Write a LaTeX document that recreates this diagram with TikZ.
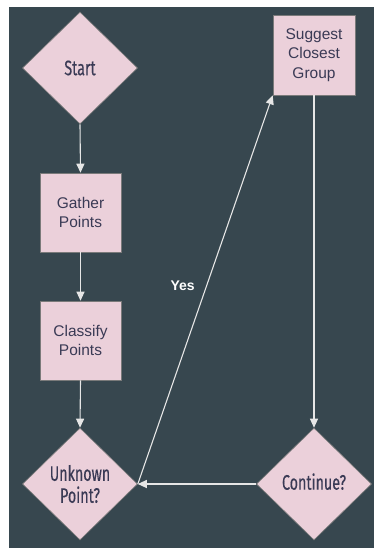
\documentclass[tikz,border=0pt]{standalone}
\usepackage{fontspec}
\setmainfont{Liberation Sans}
\newfontfamily\condfont[FakeStretch=0.68,FakeBold=0.3]{Fira Sans}
\usetikzlibrary{shapes.geometric,arrows.meta}
\definecolor{bgdark}{HTML}{37474F}
\definecolor{pinkfill}{HTML}{EBD0DA}
\definecolor{txtdark}{HTML}{3A3A55}
\definecolor{edgegray}{HTML}{7A7A7A}
\definecolor{linecol}{HTML}{E6E6E6}
\begin{document}
\begin{tikzpicture}[x=1pt,y=-1pt,
  dia/.style={diamond,draw=edgegray,line width=0.6pt,fill=pinkfill,inner sep=0pt,
    minimum width=115pt,minimum height=112pt,text=txtdark,align=center,
    font=\condfont\fontsize{21}{22}\selectfont},
  procbox/.style={rectangle,draw=edgegray,line width=0.6pt,fill=pinkfill,inner sep=0pt,
    minimum width=81pt,minimum height=79pt,text=txtdark,align=center,
    font=\fontsize{15.5}{19.5}\selectfont},
  flow/.style={draw=linecol,line width=1.1pt,-{Triangle[width=8pt,length=9pt]}}
]
\useasboundingbox (0,0) rectangle (377,550);
\fill[white] (0,0) rectangle (377,550);
\fill[bgdark] (9,7) rectangle (374,548);
\node[dia] (start) at (80,68) {Start};
\node[procbox] (gather) at (80.5,212.5) {Gather\\Points};
\node[procbox] (classify) at (80.5,340.5) {Classify\\Points};
\node[dia] (unknown) at (80,484) {Unknown\\Point?};
\node[dia] (cont) at (314,484) {\raisebox{5pt}{Continue?}};
\node[procbox,minimum width=82pt,minimum height=80pt] (suggest) at (314,55) {Suggest\\Closest\\Group};
\draw[flow] (start.south) -- (gather.north);
\draw[flow] (gather.south) -- (classify.north);
\draw[flow] (classify.south) -- (unknown.north);
\draw[flow] (unknown.east) -- node[pos=0.51,left=8pt,text=white,font=\bfseries\fontsize{14}{16}\selectfont] {Yes} (suggest.south west);
\draw[flow] (suggest.south) -- (cont.north);
\draw[flow] (cont.west) -- (unknown.east);
\end{tikzpicture}
\end{document}
